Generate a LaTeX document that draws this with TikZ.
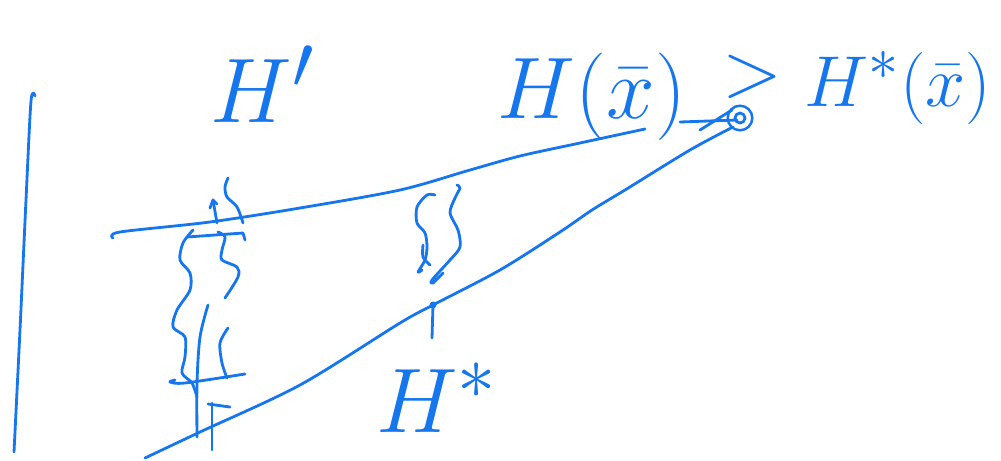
\documentclass[tikz,border=0pt]{standalone}
\usepackage{amsmath}
\usepackage{graphicx}
\usetikzlibrary{positioning}
\definecolor{pen}{RGB}{22,118,238}
\newcommand{\penlabel}[2][2.1]{\scalebox{#1}{\Huge #2}}
\begin{document}
\begin{tikzpicture}[x=0.02cm, y=-0.02cm,
  stroke/.style={pen, line width=1.6pt, line cap=round, line join=round},
  hand/.style={text=pen, inner sep=0pt}]
  \useasboundingbox (0,0) rectangle (1001,460);
  % axis
  \draw[stroke] plot[smooth] coordinates {(35,96) (31,101) (26,200) (20,330) (14,452)};
  % the two curves
  \draw[stroke] plot[smooth] coordinates {(113,238) (120,232) (210,222) (300,208) (400,190) (470,170) (520,156) (580,143) (645,129)};
  \draw[stroke] plot[smooth] coordinates {(145,458) (200,432) (300,385) (400,323) (433,305) (500,270) (560,232) (592,210) (625,190) (690,150) (733,127)};
  \node[circle, draw=pen, line width=1.4pt, minimum size=14pt, inner sep=0pt] (touch) at (740,118) {};
  \draw[stroke] (touch.center) circle (5);
  \draw[stroke] (680,122) -- (737,120);
  \draw[stroke] (700,130) -- (732,110);
  % left brace
  \draw[stroke] plot[smooth] coordinates {(228,178) (225,187) (227,197) (237,207) (243,223)};
  \draw[stroke] (210,208) -- (213,200) -- (217,204);
  \draw[stroke] (213,200) -- (217,223);
  \draw[stroke] (187,237) -- (243,233) -- (245,240);
  \draw[stroke] plot[smooth] coordinates {(193,230) (183,243) (180,260) (190,273) (190,290) (177,310) (173,327) (185,337) (185,357) (182,373) (192,383) (197,397)};
  \draw[stroke] plot[smooth] coordinates {(218,232) (225,237) (222,250) (222,260) (237,267) (238,277) (225,298)};
  \draw[stroke] plot[smooth] coordinates {(228,328) (220,343) (222,363) (227,378)};
  \draw[stroke] plot[smooth] coordinates {(175,380) (170,382) (185,383) (245,374)};
  \draw[stroke] plot[smooth] coordinates {(208,305) (200,337) (197,383) (197,437)};
  \draw[stroke] (208,404) -- (230,407);
  \draw[stroke] (212,403) -- (212,450);
  % middle brace
  \draw[stroke] plot[smooth] coordinates {(435,195) (427,195) (417,207) (417,223) (425,233) (427,247) (425,260) (418,272) (422,270)};
  \draw[stroke] plot[smooth] coordinates {(423,245) (423,257) (430,265)};
  \draw[stroke] plot[smooth] coordinates {(457,185) (460,188) (455,198) (450,213) (458,230) (460,247) (450,260) (432,280) (433,283) (443,273)};
  \draw[stroke] (433,305) circle (2) (433,305) -- (432,338);
  % labels
  \node[hand, anchor=base] (Hp) at (263,122) {\penlabel{$H'$}};
  \node[hand, anchor=base] (Hx) at (592,118) {\penlabel[2.0]{$H(\bar{x})$}};
  \node[hand] (gt) at (752,77) {\penlabel[1.8]{$>$}};
  \node[hand, anchor=base] (Hsx) at (898,106) {\penlabel[1.65]{$H^*(\bar{x})$}};
  \node[hand, anchor=base] (Hs) at (437,432) {\penlabel{$H^*$}};
\end{tikzpicture}
\end{document}
